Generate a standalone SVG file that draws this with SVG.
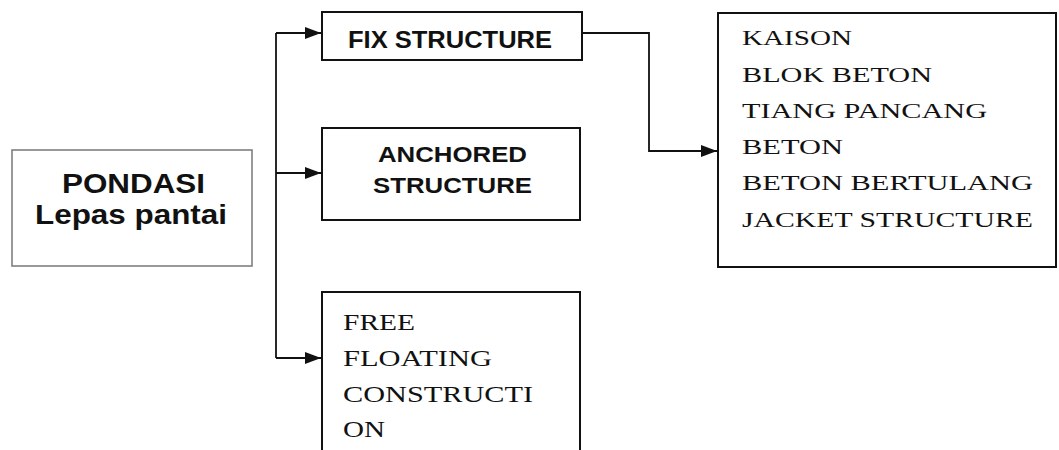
<svg xmlns="http://www.w3.org/2000/svg" width="1059" height="450" viewBox="0 0 1059 450">
<style>
.box{fill:none;stroke:#111;stroke-width:2}
.sans{font-family:"Liberation Sans",Arial,sans-serif;font-weight:bold;fill:#111}
.serif{font-family:"Liberation Serif","Times New Roman",serif;fill:#111}
.con{fill:none;stroke:#111;stroke-width:1.8}
</style>
<defs>
<marker id="arr" markerWidth="16" markerHeight="12" refX="16" refY="6" orient="auto" markerUnits="userSpaceOnUse">
<path d="M0,0 L16,6 L0,12 Z" fill="#111"/>
</marker>
</defs>
<rect width="1059" height="450" fill="#fff"/>
<g id="pondasi">
<rect x="12" y="150" width="240" height="116" fill="none" stroke="#777" stroke-width="1.5"/>
<text class="sans" x="62" y="193" font-size="27" textLength="143" lengthAdjust="spacingAndGlyphs">PONDASI</text>
<text class="sans" x="35" y="224" font-size="27" textLength="192" lengthAdjust="spacingAndGlyphs">Lepas pantai</text>
</g>
<g id="fix">
<rect x="322" y="12" width="260" height="48" class="box" stroke-width="3"/>
<text class="sans" x="348" y="48" font-size="24" textLength="204" lengthAdjust="spacingAndGlyphs">FIX STRUCTURE</text>
</g>
<g id="anchored">
<rect x="322" y="128" width="258" height="92" class="box"/>
<text class="sans" x="378" y="162" font-size="22" textLength="149" lengthAdjust="spacingAndGlyphs">ANCHORED</text>
<text class="sans" x="373" y="193" font-size="22" textLength="159" lengthAdjust="spacingAndGlyphs">STRUCTURE</text>
</g>
<g id="free">
<path d="M322,452 V292 H580 V452" class="box"/>
<text class="serif" x="343" y="330" font-size="24" textLength="72" lengthAdjust="spacingAndGlyphs">FREE</text>
<text class="serif" x="343" y="366" font-size="24" textLength="149" lengthAdjust="spacingAndGlyphs">FLOATING</text>
<text class="serif" x="343" y="402" font-size="24" textLength="190" lengthAdjust="spacingAndGlyphs">CONSTRUCTI</text>
<text class="serif" x="343" y="437" font-size="24" textLength="42" lengthAdjust="spacingAndGlyphs">ON</text>
</g>
<g id="types">
<rect x="718" y="13" width="338" height="254" class="box" stroke-width="3"/>
<text class="serif" x="742" y="45" font-size="22" textLength="110" lengthAdjust="spacingAndGlyphs">KAISON</text>
<text class="serif" x="742" y="82" font-size="22" textLength="190" lengthAdjust="spacingAndGlyphs">BLOK BETON</text>
<text class="serif" x="742" y="118" font-size="22" textLength="245" lengthAdjust="spacingAndGlyphs">TIANG PANCANG</text>
<text class="serif" x="742" y="154" font-size="22" textLength="101" lengthAdjust="spacingAndGlyphs">BETON</text>
<text class="serif" x="742" y="190" font-size="22" textLength="291" lengthAdjust="spacingAndGlyphs">BETON BERTULANG</text>
<text class="serif" x="742" y="227" font-size="22" textLength="291" lengthAdjust="spacingAndGlyphs">JACKET STRUCTURE</text>
</g>
<g id="connectors">
<path class="con" d="M276,33 V358"/>
<path class="con" d="M276,33 H321" marker-end="url(#arr)"/>
<path class="con" d="M276,173 H321" marker-end="url(#arr)"/>
<path class="con" d="M276,358 H321" marker-end="url(#arr)"/>
<path class="con" d="M582,33 H649 V151 H717" marker-end="url(#arr)"/>
</g>
</svg>
